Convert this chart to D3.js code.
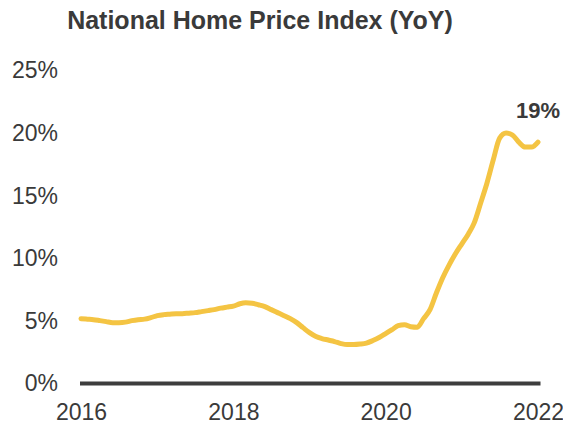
<!DOCTYPE html>
<html>
<head>
<meta charset="utf-8">
<script src="https://cdn.jsdelivr.net/npm/d3@7"></script>
<style>
  html, body { margin: 0; padding: 0; background: #fff; }
  svg { display: block; font-family: "Liberation Sans", Arial, sans-serif; }
</style>
</head>
<body>
<script>
// monthly YoY change, Jan 2016 .. Jan 2022
const months = d3.timeMonths(new Date(2016, 0, 1), new Date(2022, 0, 2));
const values = [
  5.18, 5.14, 5.10, 5.02, 4.94, 4.86, 4.86, 4.90, 5.02, 5.10, 5.14, 5.26,
  5.42, 5.50, 5.54, 5.58, 5.58, 5.62, 5.66, 5.74, 5.82, 5.90, 6.02, 6.10,
  6.18, 6.37, 6.45, 6.41, 6.29, 6.14, 5.90, 5.66, 5.42, 5.18, 4.86, 4.46,
  4.06, 3.75, 3.59, 3.47, 3.35, 3.19, 3.11, 3.11, 3.15, 3.23, 3.43, 3.67,
  3.98, 4.30, 4.62, 4.70, 4.54, 4.50, 5.18, 5.90, 7.25, 8.45, 9.48, 10.36,
  11.16, 11.95, 12.83, 14.42, 16.0, 17.9, 19.6, 20.0, 19.84, 19.28, 18.88, 18.88,
  19.28
];
const yTicks = [0, 5, 10, 15, 20, 25];
const xTickYears = [2016, 2018, 2020, 2022];
const lastLabel = "19%";

window.onload = function () {
  let width = 563;
  let height = 423;
  let textColor = "#3a3a3a";

  let svg = d3.select("body").append("svg")
    .attr("width", width)
    .attr("height", height);

  let xScale = d3.scaleTime()
    .domain([new Date(2016, 0, 1), new Date(2022, 0, 1)])
    .range([81, 538]);
  let yScale = d3.scaleLinear()
    .domain([0, 25])
    .range([383.5, 70.5]);

  // title
  svg.append("text")
    .attr("x", 260)
    .attr("y", 29)
    .attr("text-anchor", "middle")
    .attr("font-size", 25)
    .attr("font-weight", "bold")
    .attr("fill", textColor)
    .text("National Home Price Index (YoY)");

  // y axis labels
  svg.append("g")
    .attr("transform", `translate(80, 0)`)
    .call(d3.axisLeft(yScale).tickValues(yTicks).tickSize(0).tickPadding(22)
      .tickFormat(d => d + "%"))
    .call(g => g.select(".domain").remove())
    .call(g => g.selectAll("text")
      .attr("font-size", 23)
      .attr("font-family", "Liberation Sans, Arial, sans-serif")
      .attr("fill", textColor));

  // x axis labels
  svg.append("g")
    .attr("transform", `translate(0, ${yScale(0)})`)
    .call(d3.axisBottom(xScale)
      .tickValues(xTickYears.map(y => new Date(y, 0, 1)))
      .tickSize(0).tickPadding(20)
      .tickFormat(d3.timeFormat("%Y")))
    .call(g => g.select(".domain").remove())
    .call(g => g.selectAll("text")
      .attr("font-size", 23)
      .attr("font-family", "Liberation Sans, Arial, sans-serif")
      .attr("fill", textColor));

  // zero baseline
  svg.append("line")
    .attr("x1", xScale.range()[0] - 1)
    .attr("x2", xScale.range()[1] + 2.5)
    .attr("y1", yScale(0))
    .attr("y2", yScale(0))
    .attr("stroke", "#3d3d3d")
    .attr("stroke-width", 4);

  // series line
  let line = d3.line()
    .x((d, i) => xScale(months[i]))
    .y(d => yScale(d))
    .curve(d3.curveMonotoneX);

  svg.append("path")
    .attr("d", line(values))
    .attr("fill", "none")
    .attr("stroke", "#f4c443")
    .attr("stroke-width", 5)
    .attr("stroke-linecap", "round")
    .attr("stroke-linejoin", "round");

  // end label
  svg.append("text")
    .attr("x", xScale(months[months.length - 1]))
    .attr("y", 118)
    .attr("text-anchor", "middle")
    .attr("font-size", 22)
    .attr("font-weight", "bold")
    .attr("fill", textColor)
    .text(lastLabel);
};
</script>
</body>
</html>
